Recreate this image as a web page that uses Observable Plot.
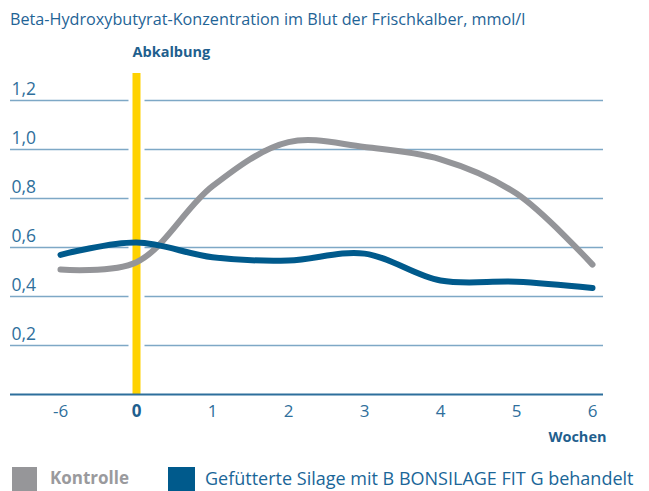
<!DOCTYPE html>
<html>
<head>
<meta charset="utf-8">
<script src="https://cdn.jsdelivr.net/npm/d3@7"></script>
<script src="https://cdn.jsdelivr.net/npm/@observablehq/plot@0.6"></script>
<style>
  body { margin: 0; background: #fff; font-family: "Open Sans", sans-serif; }
  #wrap { position: relative; width: 649px; height: 491px; overflow: hidden; }
  #title { position: absolute; left: 10px; top: 8px; font-size: 16.2px; color: #1f6496; white-space: nowrap; }
  #chart { position: absolute; left: 0; top: 40px; }
  .sw { position: absolute; top: 467px; height: 26px; }
  .lt { position: absolute; top: 466px; font-size: 18px; white-space: nowrap; line-height: 24px; }
</style>
</head>
<body>
<div id="wrap">
  <div id="title">Beta-Hydroxybutyrat-Konzentration im Blut der Frischkalber, mmol/l</div>
  <div id="chart"></div>
  <div class="sw" style="left:12px;width:25px;background:#969699"></div>
  <div class="lt" style="left:50px;color:#9a9a9d;font-weight:bold;font-size:17px">Kontrolle</div>
  <div class="sw" style="left:168px;width:27px;background:#005a8c"></div>
  <div class="lt" style="left:205px;color:#1a6698">Gefütterte Silage mit B BONSILAGE FIT G behandelt</div>
</div>
<script>
const weeks = ["-6", "0", "1", "2", "3", "4", "5", "6"];
const kontrolle = [0.51, 0.54, 0.85, 1.03, 1.01, 0.96, 0.82, 0.53];
const behandelt = [0.57, 0.62, 0.56, 0.547, 0.575, 0.465, 0.46, 0.435];
const yTicks = [0.2, 0.4, 0.6, 0.8, 1.0, 1.2];
const yTickLabels = ["0,2", "0,4", "0,6", "0,8", "1,0", "1,2"];
const markerWeek = "0";
const markerLabel = "Abkalbung";
const xTitle = "Wochen";

const data = weeks.map((w, i) => ({ week: w, k: kontrolle[i], b: behandelt[i] }));
const yTop = 1.31;

const chart = Plot.plot({
  width: 649,
  height: 410,
  marginLeft: 10,
  marginRight: 46,
  marginTop: 33,
  marginBottom: 56,
  style: { fontFamily: "Open Sans, sans-serif", background: "transparent" },
  x: { type: "point", domain: weeks, range: [60, 592], padding: 0, axis: null },
  y: { domain: [0, yTop], axis: null },
  marks: [
    Plot.ruleY(yTicks, { stroke: "#7ea8c6", strokeWidth: 1.5 }),
    Plot.ruleX([markerWeek], { x: d => d, y1: 0, y2: yTop, stroke: "white", strokeWidth: 16 }),
    Plot.ruleX([markerWeek], { x: d => d, y1: 0, y2: yTop, stroke: "#ffd200", strokeWidth: 8 }),
    Plot.ruleY([0], { stroke: "#2d6f9c", strokeWidth: 2 }),
    Plot.text(yTicks, { y: d => d, text: (d, i) => yTickLabels[i], frameAnchor: "left", textAnchor: "start", dx: 1, dy: -11, fontSize: 17.5, fill: "#2f6f9c" }),
    Plot.line(data, { x: "week", y: "k", stroke: "#949599", strokeWidth: 6, curve: "catmull-rom", strokeLinecap: "round", strokeLinejoin: "round" }),
    Plot.line(data, { x: "week", y: "b", stroke: "#005a8c", strokeWidth: 6, curve: "catmull-rom", strokeLinecap: "round", strokeLinejoin: "round" }),
    Plot.text(weeks.filter(w => w !== markerWeek), { x: d => d, y: () => 0, dy: 17, fontSize: 17, fill: "#2f6f9c" }),
    Plot.text([markerWeek], { x: d => d, y: () => 0, dy: 17, fontSize: 17, fontWeight: "bold", fill: "#1f5f8e" }),
    Plot.text([markerLabel], { x: () => markerWeek, y: () => yTop, dx: -4, dy: -21, textAnchor: "start", fontSize: 14.5, fontWeight: "bold", fill: "#1f5f8e" }),
    Plot.text([xTitle], { x: () => weeks[weeks.length - 1], y: () => 0, dx: 14, dy: 43, textAnchor: "end", fontSize: 14.5, fontWeight: "bold", fill: "#1f5f8e" })
  ]
});
document.getElementById("chart").appendChild(chart);
</script>
</body>
</html>
